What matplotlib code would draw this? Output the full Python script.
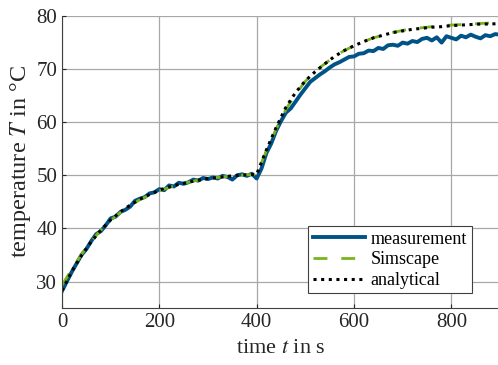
import numpy as np
import matplotlib
matplotlib.use('Agg')
import matplotlib.pyplot as plt

plt.rcParams['font.family'] = ['Liberation Serif', 'DejaVu Serif']
plt.rcParams['mathtext.fontset'] = 'stix'

# measurement, every 10 s
t_meas = np.arange(0, 901, 10)
T_meas = [28.2, 30.0, 31.8, 33.4, 35.0, 36.1, 37.6, 38.9, 39.5, 40.6,
          41.9, 42.2, 43.1, 43.5, 44.1, 45.2, 45.6, 45.9, 46.6, 46.8,
          47.4, 47.2, 48.1, 47.9, 48.6, 48.4, 48.7, 49.2, 49.0, 49.5,
          49.3, 49.6, 49.4, 49.9, 49.7, 49.2, 50.0, 50.2, 49.9, 50.3,
          49.4, 51.3, 54.2, 56.0, 58.4, 60.2, 61.8, 62.6, 63.9, 65.2,
          66.4, 67.6, 68.3, 69.0, 69.6, 70.3, 70.9, 71.3, 71.8, 72.3,
          72.4, 72.9, 73.0, 73.5, 73.4, 74.0, 73.8, 74.5, 74.6, 74.4,
          75.0, 74.8, 75.3, 75.1, 75.7, 75.9, 75.4, 76.0, 75.0, 76.2,
          75.9, 75.6, 76.3, 76.0, 76.5, 76.1, 75.8, 76.4, 76.2, 76.6,
          76.5]

# models, every 20 s
t_model = np.arange(0, 901, 20)
T_sim = [29.3, 32.3, 35.1, 37.6, 39.7, 41.5, 43.0, 44.3, 45.4, 46.3,
         47.1, 47.7, 48.2, 48.7, 49.1, 49.4, 49.6, 49.8, 50.0, 50.1,
         50.2, 54.6, 58.7, 62.4, 65.3, 67.7, 69.6, 71.0, 72.4, 73.5,
         74.4, 75.2, 75.9, 76.4, 76.9, 77.3, 77.6, 77.8, 78.0, 78.2,
         78.3, 78.4, 78.5, 78.6, 78.7, 78.7]
T_ana = [28.3, 31.9, 34.9, 37.5, 39.7, 41.6, 43.1, 44.4, 45.5, 46.4,
         47.2, 47.8, 48.3, 48.7, 49.1, 49.4, 49.6, 49.8, 50.0, 50.1,
         50.2, 54.8, 59.0, 62.8, 65.6, 67.8, 69.5, 71.0, 72.4, 73.5,
         74.4, 75.2, 75.9, 76.4, 76.9, 77.2, 77.5, 77.7, 77.9, 78.0,
         78.2, 78.3, 78.4, 78.5, 78.5, 78.6]

fig = plt.figure(figsize=(4.98, 3.65), dpi=100)
ax = fig.add_axes([0.1245, 0.156, 0.8795, 0.8])

ax.plot(t_meas, T_meas, color='#005387', lw=2.8, label='measurement')
ax.plot(t_model, T_sim, color='#78b41e', lw=2.0, dashes=(5, 5), label='Simscape')
ax.plot(t_model, T_ana, color='black', lw=2.2, dashes=(1, 1.5), label='analytical')

ax.set_xlim(0, 900)
ax.set_ylim(25, 80)
ax.set_xticks([0, 200, 400, 600, 800])
ax.set_yticks([30, 40, 50, 60, 70, 80])
ax.grid(True, color='#a8a8a8', lw=0.9)
ax.set_axisbelow(True)
for s in ['top', 'right']:
    ax.spines[s].set_visible(False)
for s in ['left', 'bottom']:
    ax.spines[s].set_color('#404040')
ax.tick_params(direction='in', length=3, labelsize=15, colors='#262626')

ax.set_xlabel('time $t$ in s', fontsize=16, color='#262626', labelpad=5)
ax.set_ylabel('temperature $T$ in °C', fontsize=17.5, color='#262626', labelpad=2)

leg = ax.legend(loc='lower right', bbox_to_anchor=(0.935, 0.05), fontsize=13,
                handlelength=2.9, fancybox=False, framealpha=1,
                edgecolor='#404040', borderpad=0.25, labelspacing=0.2,
                handletextpad=0.3, borderaxespad=0)
leg.get_frame().set_linewidth(0.8)

fig.savefig('out.png', dpi=100)
